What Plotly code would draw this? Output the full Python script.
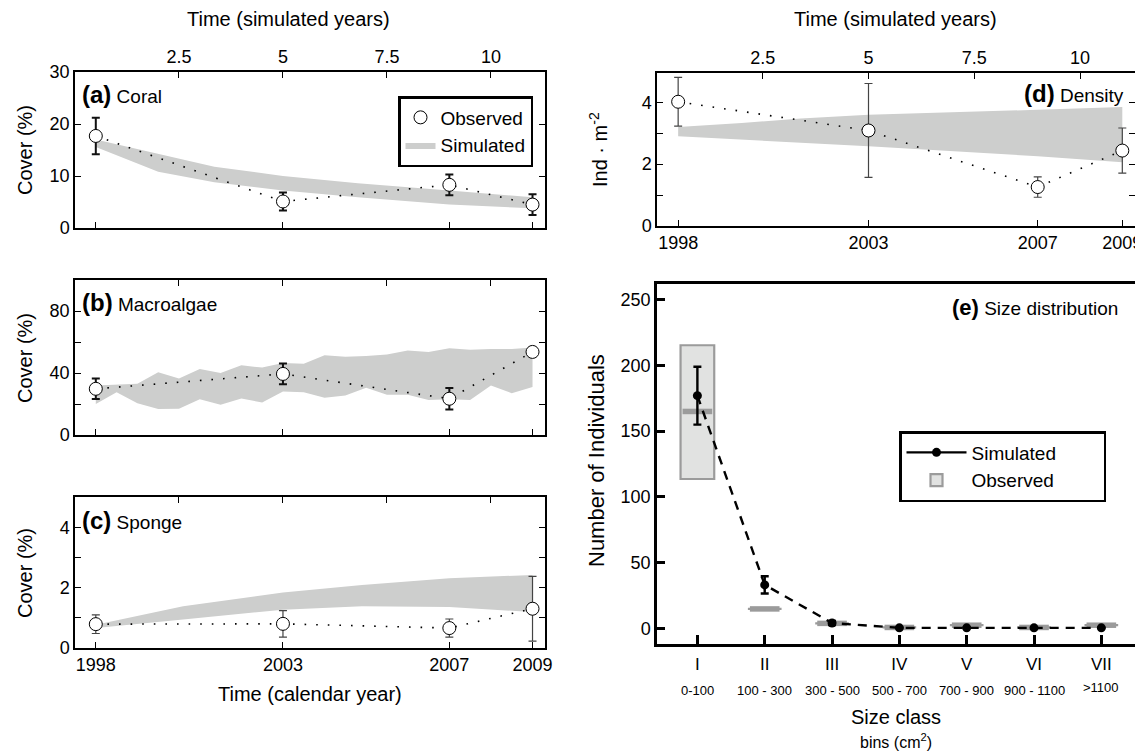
import plotly.graph_objects as go

FONT = "Liberation Sans, Arial, Helvetica, sans-serif"
W, H = 1135, 752

# ---------------- data ----------------
obs_years = ["1998", "2003", "2007", "2009"]
obs_sim_x = [0.5, 5, 9, 11]          # calendar years placed on simulated-year axis
sim_ticks = [2.5, 5, 7.5, 10]
sim_tick_text = ["2.5", "5", "7.5", "10"]

coral_obs = [17.7, 5.1, 8.3, 4.5]
coral_err = [3.5, 1.75, 2.0, 2.0]
coral_band_x = [0.5, 2.0, 3.35, 5.0, 6.8, 9.0, 11.0]
coral_band_hi = [17.0, 14.2, 11.8, 10.0, 8.6, 7.2, 5.9]
coral_band_lo = [15.6, 10.8, 8.8, 7.2, 5.9, 4.5, 3.8]

macro_obs = [29.8, 39.4, 23.4, 53.6]
macro_err = [6.6, 6.7, 6.9, 2.3]
macro_band_x = [0.5, 1.0, 1.5, 2.0, 2.5, 3.0, 3.5, 4.0, 4.5, 5.0, 5.5,
                6.0, 6.5, 7.0, 7.5, 8.0, 8.5, 9.0, 9.5, 10.0, 10.5, 11.0]
macro_band_hi = [32, 32.5, 33, 40.5, 36.5, 42.5, 40, 45, 43.5, 46.5, 46,
                 51.5, 50.5, 51, 52, 54.5, 53.5, 56, 55, 55.5, 55.5, 56.5]
macro_band_lo = [20, 27.5, 20.5, 16.8, 17, 23, 19.5, 23.5, 21, 28, 27.5,
                 24, 25.5, 30.5, 26, 26, 22.5, 23, 22.5, 32, 27, 31]

sponge_obs = [0.79, 0.80, 0.66, 1.30]
sponge_err = [0.31, 0.44, 0.30, 1.07]
sponge_band_x = [0.5, 2.6, 5.0, 6.9, 9.0, 11.0]
sponge_band_hi = [0.77, 1.38, 1.84, 2.09, 2.31, 2.42]
sponge_band_lo = [0.66, 0.94, 1.27, 1.38, 1.36, 1.19]

dens_obs = [4.02, 3.09, 1.26, 2.44]
dens_err = [0.79, 1.52, 0.33, 0.73]
dens_band_x = [0.5, 2.0, 3.4, 5.0, 9.0, 11.0]
dens_band_hi = [3.2, 3.33, 3.48, 3.6, 3.76, 3.85]
dens_band_lo = [2.9, 2.8, 2.7, 2.58, 2.26, 2.06]

size_classes = ["I", "II", "III", "IV", "V", "VI", "VII"]
size_bins = ["0-100", "100 - 300", "300 - 500", "500 - 700", "700 - 900", "900 - 1100", ">1100"]
size_pos = [1, 2, 3, 4, 5, 6, 7]
sim_mean = [177, 33, 4, 0.3, 0.3, 0.3, 0.3]
sim_err = [22, 6.6, 1.5, 0, 0, 0, 0]
obs_median = [165, 14.7, 3.7, 0.6, 2.3, 0.6, 2.3]
obs_q1 = [113.6, 14.7, 3.7, 0.6, 2.3, 0.6, 2.3]
obs_q3 = [215.4, 14.7, 3.7, 0.6, 2.3, 0.6, 2.3]
box_width = 0.5

# ---------------- styles ----------------
BAND = "#cdcecd"
BOXFILL = "#e1e2e1"
BOXLINE = "#9b9b9b"
PAD = "\u00a0" * 8   # extra room at the right of the size-distribution legend


def px_x(p):
    return p / W


def px_y(p):
    return 1 - p / H


fig = go.Figure()

left_dom = [px_x(75), px_x(545)]
right_dom = [px_x(657), 1.0]
panels = [
    dict(x="x", xt="x2", y="y", ypx=(72, 228), xdom=left_dom, obs=coral_obs, err=coral_err,
         bx=coral_band_x, bh=coral_band_hi, bl=coral_band_lo, yr=[0, 30],
         yt=[0, 10, 20, 30], yl=["0", "10", "20", "30"], et=2.0, ec="#111",
         bot=False, top=True),
    dict(x="x3", xt="x4", y="y2", ypx=(280, 435), xdom=left_dom, obs=macro_obs, err=macro_err,
         bx=macro_band_x, bh=macro_band_hi, bl=macro_band_lo, yr=[0, 100],
         yt=[0, 20, 40, 60, 80], yl=["0", "", "40", "", "80"], et=2.0, ec="#111",
         bot=False, top=False),
    dict(x="x5", xt="x6", y="y3", ypx=(497, 648), xdom=left_dom, obs=sponge_obs, err=sponge_err,
         bx=sponge_band_x, bh=sponge_band_hi, bl=sponge_band_lo, yr=[0, 5],
         yt=[0, 1, 2, 3, 4], yl=["0", "", "2", "", "4"], et=1.2, ec="#444",
         bot=True, top=False),
    dict(x="x7", xt="x8", y="y4", ypx=(73, 226), xdom=right_dom, obs=dens_obs, err=dens_err,
         bx=dens_band_x, bh=dens_band_hi, bl=dens_band_lo, yr=[0, 4.95],
         yt=[0, 1, 2, 3, 4], yl=["0", "", "2", "", "4"], et=1.2, ec="#444",
         bot=True, top=True),
]

XR = [0, 11.3]
tickfont = dict(family=FONT, size=18, color="black")

for i, p in enumerate(panels):
    first = i == 0
    fig.add_trace(go.Scatter(
        x=p["bx"] + p["bx"][::-1], y=p["bh"] + p["bl"][::-1],
        fill="toself", fillcolor=BAND, mode="lines", line=dict(width=0, color=BAND),
        xaxis=p["x"], yaxis=p["y"], name="Simulated", showlegend=first, legend="legend",
        hoverinfo="skip"))
    fig.add_trace(go.Scatter(
        x=obs_sim_x, y=p["obs"], mode="lines",
        line=dict(color="black", width=1.6, dash="1.6px,10px"),
        xaxis=p["x"], yaxis=p["y"], showlegend=False, hoverinfo="skip"))
    fig.add_trace(go.Scatter(
        x=obs_sim_x, y=p["obs"], mode="markers",
        marker=dict(symbol="circle", size=13, color="white", line=dict(color="black", width=1)),
        error_y=dict(type="data", array=p["err"], visible=True, color=p["ec"],
                     thickness=p["et"], width=4),
        xaxis=p["x"], yaxis=p["y"], name="Observed", showlegend=first, legend="legend"))
    # invisible anchor trace so the simulated-years axis is drawn
    fig.add_trace(go.Scatter(
        x=sim_ticks, y=[p["yr"][0]] * len(sim_ticks), mode="markers",
        marker=dict(opacity=0, size=1), xaxis=p["xt"], yaxis=p["y"],
        showlegend=False, hoverinfo="skip"))

    ydom = [px_y(p["ypx"][1]), px_y(p["ypx"][0])]
    xn = "xaxis" if p["x"] == "x" else p["x"].replace("x", "xaxis")
    xtn = p["xt"].replace("x", "xaxis")
    yn = "yaxis" if p["y"] == "y" else p["y"].replace("y", "yaxis")
    fig.layout[xn] = dict(
        domain=p["xdom"], anchor=p["y"], range=XR, showgrid=False, zeroline=False,
        automargin=False, ticklabeloverflow="allow",
        showline=True, linecolor="black", linewidth=1.5, ticks="inside", ticklen=6,
        tickcolor="black", tickwidth=1.3,
        tickvals=obs_sim_x, ticktext=obs_years, showticklabels=p["bot"], tickfont=tickfont)
    fig.layout[xtn] = dict(
        domain=p["xdom"], anchor=p["y"], overlaying=p["x"], side="top", range=XR,
        automargin=False, ticklabeloverflow="allow",
        showgrid=False, zeroline=False, showline=True, linecolor="black", linewidth=1.5,
        ticks="inside", ticklen=6, tickcolor="black", tickwidth=1.3,
        tickvals=sim_ticks, ticktext=sim_tick_text, showticklabels=p["top"], tickfont=tickfont)
    fig.layout[yn] = dict(
        domain=ydom, anchor=p["x"], range=p["yr"], showgrid=False, zeroline=False,
        automargin=False,
        showline=True, linecolor="black", linewidth=1.5, mirror="ticks",
        ticks="inside", ticklen=6, tickcolor="black", tickwidth=1.3,
        tickvals=p["yt"], ticktext=p["yl"], tickfont=tickfont)

# ---------------- panel e ----------------
fig.add_trace(go.Bar(
    x=size_pos, base=obs_q1, y=[b - a for a, b in zip(obs_q1, obs_q3)], width=box_width,
    marker=dict(color=BOXFILL, line=dict(color=BOXLINE, width=2.2)),
    xaxis="x9", yaxis="y5", name="Observed" + PAD, legend="legend2", showlegend=True))
med_x, med_y = [], []
for xp, m in zip(size_pos, obs_median):
    med_x += [xp - box_width / 2 + 0.03, xp + box_width / 2 - 0.03, None]
    med_y += [m, m, None]
fig.add_trace(go.Scatter(
    x=med_x, y=med_y, mode="lines", line=dict(color=BOXLINE, width=5.5),
    xaxis="x9", yaxis="y5", showlegend=False, hoverinfo="skip"))
fig.add_trace(go.Scatter(
    x=size_pos, y=sim_mean, mode="lines+markers",
    line=dict(color="black", width=2.4, dash="9px,7px"),
    marker=dict(color="black", size=9),
    error_y=dict(type="data", array=sim_err, visible=True, color="black", thickness=2.4, width=4),
    xaxis="x9", yaxis="y5", showlegend=False))
fig.add_trace(go.Scatter(
    x=[None], y=[None], mode="lines+markers", line=dict(color="black", width=2.4),
    marker=dict(color="black", size=9), name="Simulated" + PAD,
    xaxis="x9", yaxis="y5", legend="legend2", showlegend=True))

fig.update_layout(
    xaxis9=dict(domain=right_dom, anchor="y5", range=[0.4, 7.5], showgrid=False, zeroline=False,
                automargin=False, ticklabelstandoff=3,
                showline=True, linecolor="black", linewidth=2.5, mirror=True,
                ticks="inside", ticklen=9, tickwidth=2.5, tickcolor="black",
                tickvals=size_pos, ticktext=size_classes, tickfont=dict(family=FONT, size=17)),
    yaxis5=dict(domain=[px_y(644), px_y(284)], anchor="x9", range=[-12, 262], showgrid=False,
                automargin=False,
                zeroline=False, showline=True, linecolor="black", linewidth=2.5,
                ticks="inside", ticklen=8, tickwidth=2.5, tickcolor="black",
                tickvals=[0, 50, 100, 150, 200, 250], tickfont=dict(family=FONT, size=18)),
)

for xp, b in zip(size_pos, size_bins):
    fig.add_annotation(x=xp, y=px_y(690 if b != ">1100" else 687), xref="x9", yref="paper",
                       xanchor="center", yanchor="middle",
                       text=b, showarrow=False, font=dict(family=FONT, size=13, color="black"))


def ann(text, x, y, size=20, angle=0, xanchor="center"):
    fig.add_annotation(x=px_x(x), y=px_y(y), xref="paper", yref="paper", text=text,
                       showarrow=False, textangle=angle, xanchor=xanchor, yanchor="middle",
                       font=dict(family=FONT, size=size, color="black"))


ann("Time (simulated years)", 288, 19)
ann("Time (simulated years)", 895, 19)
ann("Cover (%)", 25, 150, angle=-90)
ann("Cover (%)", 25, 358, angle=-90)
ann("Cover (%)", 25, 573, angle=-90)
ann("Time (calendar year)", 310, 694)
ann("Ind · m<sup>-2</sup>", 598, 150, angle=-90)
ann("Number of Individuals", 597, 461, size=22, angle=-90)
ann("Size class", 896, 717)
ann("bins (cm<sup>2</sup>)", 896, 741, size=16)

lab = "<b><span style='font-size:24px'>({})</span></b> {}"
ann(lab.format("a", "Coral"), 80, 94, size=19, xanchor="left")
ann(lab.format("b", "Macroalgae"), 80, 302, size=19, xanchor="left")
ann(lab.format("c", "Sponge"), 80, 520, size=19, xanchor="left")
ann(lab.format("d", "Density"), 1126, 93, size=19, xanchor="right")
ann("<b><span style='font-size:22px'>(e)</span></b> Size distribution", 1120, 308, size=19, xanchor="right")

fig.update_layout(
    template="none",
    width=W, height=H, margin=dict(l=0, r=0, t=0, b=0, pad=0, autoexpand=False),
    paper_bgcolor="white", plot_bgcolor="white",
    font=dict(family=FONT, size=17, color="black"),
    barmode="overlay",
    legend=dict(x=px_x(398), y=px_y(96), xanchor="left", yanchor="top",
                bordercolor="black", borderwidth=2.5, bgcolor="white",
                font=dict(family=FONT, size=19), tracegroupgap=0, itemwidth=30,
                traceorder="reversed"),
    legend2=dict(x=px_x(899), y=px_y(431), xanchor="left", yanchor="top",
                 bordercolor="black", borderwidth=2.5, bgcolor="white",
                 font=dict(family=FONT, size=19), tracegroupgap=4, itemwidth=60,
                 traceorder="reversed"),
    showlegend=True,
)

fig.write_html("out.html", config={"displayModeBar": False},
               post_script="document.body.style.margin='0px';")
